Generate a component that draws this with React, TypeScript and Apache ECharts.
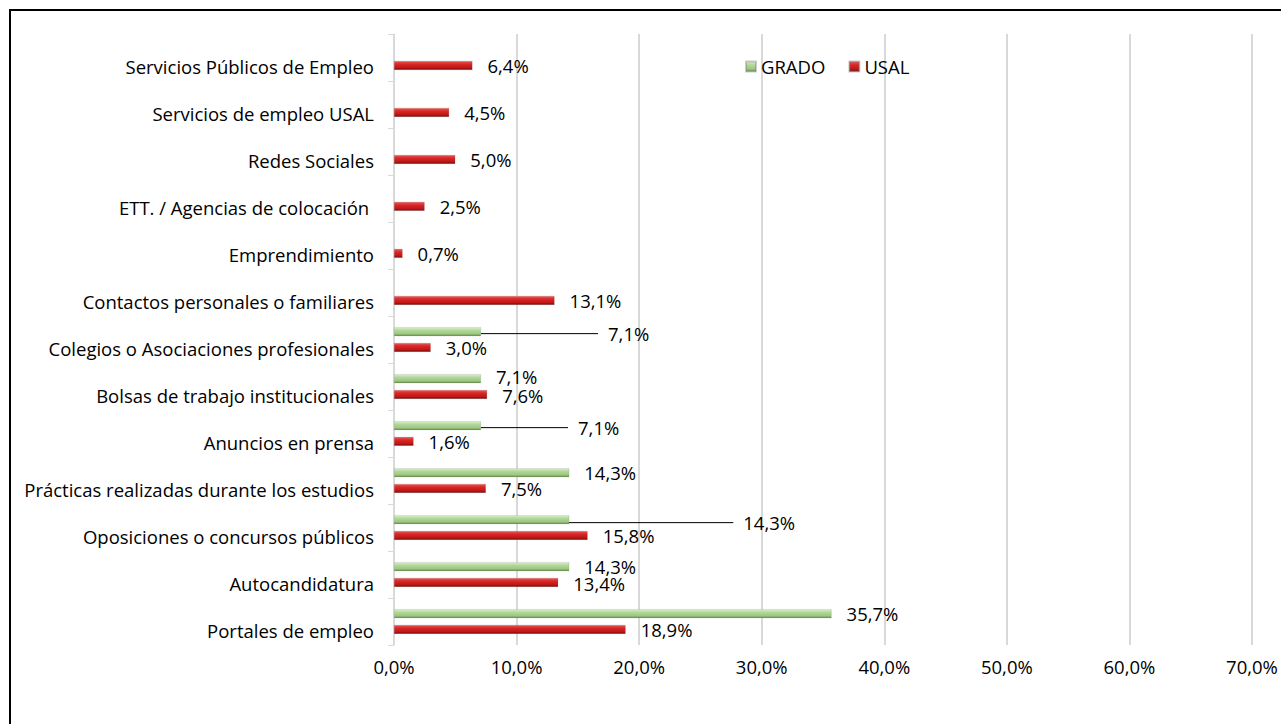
import React, { useEffect, useRef } from "react";
import * as echarts from "echarts";

const categories = [
  "Servicios Públicos de Empleo",
  "Servicios de empleo USAL",
  "Redes Sociales",
  "ETT. / Agencias de colocación ",
  "Emprendimiento",
  "Contactos personales o familiares",
  "Colegios o Asociaciones profesionales",
  "Bolsas de trabajo institucionales",
  "Anuncios en prensa",
  "Prácticas realizadas durante los estudios",
  "Oposiciones o concursos públicos",
  "Autocandidatura",
  "Portales de empleo",
];
const gradoValues: (number | null)[] = [null, null, null, null, null, null, 7.1, 7.1, 7.1, 14.3, 14.3, 14.3, 35.7];
const usalValues: number[] = [6.4, 4.5, 5.0, 2.5, 0.7, 13.1, 3.0, 7.6, 1.6, 7.5, 15.8, 13.4, 18.9];
const xTicks = [0, 10, 20, 30, 40, 50, 60, 70];

// label shifts (dx, dy, leader line) for GRADO labels
const gradoShifts: Record<number, [number, number, boolean]> = {
  6: [102, 2, true],
  7: [0, -2, false],
  8: [72, 2, true],
  10: [149, 3, true],
};
const usalShifts: Record<number, [number, number]> = {
  7: [0, 1],
  11: [0, 1],
};

const FONT = "'Open Sans', Lato, sans-serif";
const FS = 18.5;
const fmt = (v: number) => v.toFixed(1).replace(".", ",") + "%";

export default function App() {
  const ref = useRef<HTMLDivElement>(null);
  useEffect(() => {
    if (!ref.current) return;
    const chart = echarts.init(ref.current, undefined, { renderer: "svg" });
    const greenGrad = new echarts.graphic.LinearGradient(0, 0, 0, 1, [
      { offset: 0, color: "#d9eecb" },
      { offset: 0.35, color: "#b3d79a" },
      { offset: 0.75, color: "#9cc882" },
      { offset: 1, color: "#6a9450" },
    ]);
    const redGrad = new echarts.graphic.LinearGradient(0, 0, 0, 1, [
      { offset: 0, color: "#ea5a5a" },
      { offset: 0.35, color: "#da2626" },
      { offset: 0.75, color: "#c01818" },
      { offset: 1, color: "#760a0a" },
    ]);
    const gradoData = gradoValues.map((v, i) => {
      const s = gradoShifts[i];
      if (v === null) return null;
      return s && s[2]
        ? {
            value: v,
            labelLine: { show: true },
            label: { formatter: "{sp|}" + fmt(v), rich: { sp: { width: 10 } } },
          }
        : { value: v };
    });
    const labelBase = {
      show: true,
      position: "right",
      distance: 15,
      fontSize: FS,
      color: "#000",
      fontFamily: FONT,
      formatter: (p: any) => fmt(p.value),
    };
    chart.setOption({
      animation: false,
      textStyle: { fontFamily: FONT },
      graphic: [
        {
          type: "rect",
          shape: { x: 10, y: 10, width: 1400, height: 900 },
          style: { fill: "none", stroke: "#000", lineWidth: 2 },
          silent: true,
        },
      ],
      legend: {
        left: 740,
        top: 52,
        icon: "rect",
        itemWidth: 10,
        itemHeight: 10,
        itemGap: 23,
        textStyle: { fontSize: FS, color: "#000", fontFamily: FONT },
        data: ["GRADO", "USAL"],
      },
      grid: { left: 394, right: 29, top: 34, bottom: 79, containLabel: false },
      xAxis: {
        type: "value",
        min: xTicks[0],
        max: xTicks[xTicks.length - 1],
        interval: 10,
        axisLine: { show: false },
        axisTick: { show: false },
        splitLine: { lineStyle: { color: "#d9d9d9", width: 2 } },
        axisLabel: { formatter: (v: number) => fmt(v), fontSize: FS, color: "#000", margin: 12, fontFamily: FONT },
      },
      yAxis: {
        type: "category",
        inverse: true,
        data: categories,
        axisLine: { lineStyle: { color: "#d9d9d9", width: 1 } },
        axisTick: { show: true, length: 6, lineStyle: { color: "#d9d9d9" } },
        axisLabel: {
          fontSize: FS,
          color: "#000",
          margin: 20,
          fontFamily: FONT,
          verticalAlign: "top",
          lineHeight: 18,
        },
      },
      series: [
        {
          name: "GRADO",
          type: "bar",
          data: gradoData,
          barWidth: 9,
          barGap: "75%",
          itemStyle: { color: greenGrad, borderColor: "rgba(110,110,110,0.35)", borderWidth: 0.5 },
          label: labelBase,
          labelLine: { show: false, lineStyle: { color: "#000", width: 1 } },
          labelLayout: (p: any) => {
            const s = gradoShifts[p.dataIndex];
            return s ? { dx: s[0], dy: s[1] } : {};
          },
        },
        {
          name: "USAL",
          type: "bar",
          data: usalValues,
          barWidth: 9,
          barGap: "75%",
          itemStyle: { color: redGrad, borderColor: "rgba(110,110,110,0.35)", borderWidth: 0.5 },
          label: labelBase,
          labelLayout: (p: any) => {
            const s = usalShifts[p.dataIndex];
            return s ? { dx: s[0], dy: s[1] } : {};
          },
        },
      ],
    });
    return () => chart.dispose();
  }, []);
  return (
    <div
      ref={ref}
      style={{ position: "fixed", left: 0, top: 0, width: 1281, height: 724, background: "#fff" }}
    />
  );
}
